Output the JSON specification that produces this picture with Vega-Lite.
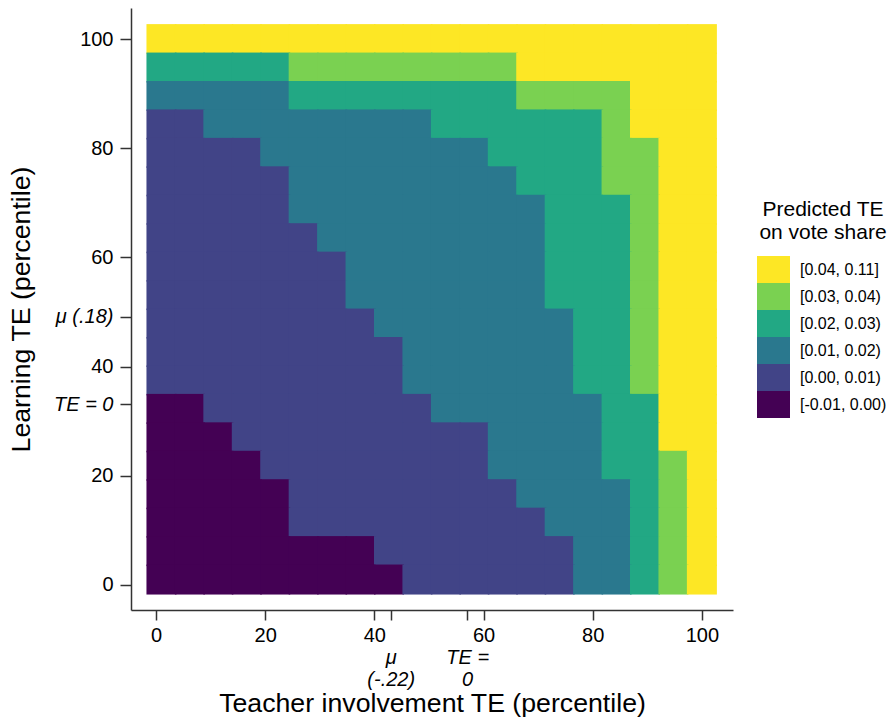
{
  "$schema": "https://vega.github.io/schema/vega-lite/v6.json",
  "width": 602,
  "height": 602,
  "autosize": "none",
  "padding": {"left": 131, "top": 8, "right": 158, "bottom": 109},
  "config": {
    "font": "Liberation Sans",
    "view": {"stroke": null},
    "axis": {
      "grid": false,
      "domainColor": "#333333",
      "domainWidth": 1.5,
      "tickColor": "#333333",
      "tickWidth": 1.5,
      "tickSize": 10,
      "labelFontSize": 20,
      "labelColor": "#000000",
      "labelPadding": 5,
      "labelOverlap": false,
      "labelFlush": false,
      "titleFontSize": 26.7,
      "titleFontWeight": "normal",
      "titleColor": "#000000"
    }
  },
  "datasets": {
    "bins": [
      {"k": 5, "te": "[0.04, 0.11]"},
      {"k": 4, "te": "[0.03, 0.04)"},
      {"k": 3, "te": "[0.02, 0.03)"},
      {"k": 2, "te": "[0.01, 0.02)"},
      {"k": 1, "te": "[0.00, 0.01)"},
      {"k": 0, "te": "[-0.01, 0.00)"}
    ],
    "cells": [
      {"x":1,"y":100,"k":5},{"x":6.21,"y":100,"k":5},{"x":11.42,"y":100,"k":5},{"x":16.63,"y":100,"k":5},{"x":21.84,"y":100,"k":5},{"x":27.05,"y":100,"k":5},{"x":32.26,"y":100,"k":5},{"x":37.47,"y":100,"k":5},{"x":42.68,"y":100,"k":5},{"x":47.89,"y":100,"k":5},{"x":53.11,"y":100,"k":5},{"x":58.32,"y":100,"k":5},{"x":63.53,"y":100,"k":5},{"x":68.74,"y":100,"k":5},{"x":73.95,"y":100,"k":5},{"x":79.16,"y":100,"k":5},{"x":84.37,"y":100,"k":5},{"x":89.58,"y":100,"k":5},{"x":94.79,"y":100,"k":5},{"x":100,"y":100,"k":5},

      {"x":1,"y":94.79,"k":3},{"x":6.21,"y":94.79,"k":3},{"x":11.42,"y":94.79,"k":3},{"x":16.63,"y":94.79,"k":3},{"x":21.84,"y":94.79,"k":3},{"x":27.05,"y":94.79,"k":4},{"x":32.26,"y":94.79,"k":4},{"x":37.47,"y":94.79,"k":4},{"x":42.68,"y":94.79,"k":4},{"x":47.89,"y":94.79,"k":4},{"x":53.11,"y":94.79,"k":4},{"x":58.32,"y":94.79,"k":4},{"x":63.53,"y":94.79,"k":4},{"x":68.74,"y":94.79,"k":5},{"x":73.95,"y":94.79,"k":5},{"x":79.16,"y":94.79,"k":5},{"x":84.37,"y":94.79,"k":5},{"x":89.58,"y":94.79,"k":5},{"x":94.79,"y":94.79,"k":5},{"x":100,"y":94.79,"k":5},

      {"x":1,"y":89.58,"k":2},{"x":6.21,"y":89.58,"k":2},{"x":11.42,"y":89.58,"k":2},{"x":16.63,"y":89.58,"k":2},{"x":21.84,"y":89.58,"k":2},{"x":27.05,"y":89.58,"k":3},{"x":32.26,"y":89.58,"k":3},{"x":37.47,"y":89.58,"k":3},{"x":42.68,"y":89.58,"k":3},{"x":47.89,"y":89.58,"k":3},{"x":53.11,"y":89.58,"k":3},{"x":58.32,"y":89.58,"k":3},{"x":63.53,"y":89.58,"k":3},{"x":68.74,"y":89.58,"k":4},{"x":73.95,"y":89.58,"k":4},{"x":79.16,"y":89.58,"k":4},{"x":84.37,"y":89.58,"k":4},{"x":89.58,"y":89.58,"k":5},{"x":94.79,"y":89.58,"k":5},{"x":100,"y":89.58,"k":5},

      {"x":1,"y":84.37,"k":1},{"x":6.21,"y":84.37,"k":1},{"x":11.42,"y":84.37,"k":2},{"x":16.63,"y":84.37,"k":2},{"x":21.84,"y":84.37,"k":2},{"x":27.05,"y":84.37,"k":2},{"x":32.26,"y":84.37,"k":2},{"x":37.47,"y":84.37,"k":2},{"x":42.68,"y":84.37,"k":2},{"x":47.89,"y":84.37,"k":2},{"x":53.11,"y":84.37,"k":3},{"x":58.32,"y":84.37,"k":3},{"x":63.53,"y":84.37,"k":3},{"x":68.74,"y":84.37,"k":3},{"x":73.95,"y":84.37,"k":3},{"x":79.16,"y":84.37,"k":3},{"x":84.37,"y":84.37,"k":4},{"x":89.58,"y":84.37,"k":5},{"x":94.79,"y":84.37,"k":5},{"x":100,"y":84.37,"k":5},

      {"x":1,"y":79.16,"k":1},{"x":6.21,"y":79.16,"k":1},{"x":11.42,"y":79.16,"k":1},{"x":16.63,"y":79.16,"k":1},{"x":21.84,"y":79.16,"k":2},{"x":27.05,"y":79.16,"k":2},{"x":32.26,"y":79.16,"k":2},{"x":37.47,"y":79.16,"k":2},{"x":42.68,"y":79.16,"k":2},{"x":47.89,"y":79.16,"k":2},{"x":53.11,"y":79.16,"k":2},{"x":58.32,"y":79.16,"k":2},{"x":63.53,"y":79.16,"k":3},{"x":68.74,"y":79.16,"k":3},{"x":73.95,"y":79.16,"k":3},{"x":79.16,"y":79.16,"k":3},{"x":84.37,"y":79.16,"k":4},{"x":89.58,"y":79.16,"k":4},{"x":94.79,"y":79.16,"k":5},{"x":100,"y":79.16,"k":5},

      {"x":1,"y":73.95,"k":1},{"x":6.21,"y":73.95,"k":1},{"x":11.42,"y":73.95,"k":1},{"x":16.63,"y":73.95,"k":1},{"x":21.84,"y":73.95,"k":1},{"x":27.05,"y":73.95,"k":2},{"x":32.26,"y":73.95,"k":2},{"x":37.47,"y":73.95,"k":2},{"x":42.68,"y":73.95,"k":2},{"x":47.89,"y":73.95,"k":2},{"x":53.11,"y":73.95,"k":2},{"x":58.32,"y":73.95,"k":2},{"x":63.53,"y":73.95,"k":2},{"x":68.74,"y":73.95,"k":3},{"x":73.95,"y":73.95,"k":3},{"x":79.16,"y":73.95,"k":3},{"x":84.37,"y":73.95,"k":4},{"x":89.58,"y":73.95,"k":4},{"x":94.79,"y":73.95,"k":5},{"x":100,"y":73.95,"k":5},

      {"x":1,"y":68.74,"k":1},{"x":6.21,"y":68.74,"k":1},{"x":11.42,"y":68.74,"k":1},{"x":16.63,"y":68.74,"k":1},{"x":21.84,"y":68.74,"k":1},{"x":27.05,"y":68.74,"k":2},{"x":32.26,"y":68.74,"k":2},{"x":37.47,"y":68.74,"k":2},{"x":42.68,"y":68.74,"k":2},{"x":47.89,"y":68.74,"k":2},{"x":53.11,"y":68.74,"k":2},{"x":58.32,"y":68.74,"k":2},{"x":63.53,"y":68.74,"k":2},{"x":68.74,"y":68.74,"k":2},{"x":73.95,"y":68.74,"k":3},{"x":79.16,"y":68.74,"k":3},{"x":84.37,"y":68.74,"k":3},{"x":89.58,"y":68.74,"k":4},{"x":94.79,"y":68.74,"k":5},{"x":100,"y":68.74,"k":5},

      {"x":1,"y":63.53,"k":1},{"x":6.21,"y":63.53,"k":1},{"x":11.42,"y":63.53,"k":1},{"x":16.63,"y":63.53,"k":1},{"x":21.84,"y":63.53,"k":1},{"x":27.05,"y":63.53,"k":1},{"x":32.26,"y":63.53,"k":2},{"x":37.47,"y":63.53,"k":2},{"x":42.68,"y":63.53,"k":2},{"x":47.89,"y":63.53,"k":2},{"x":53.11,"y":63.53,"k":2},{"x":58.32,"y":63.53,"k":2},{"x":63.53,"y":63.53,"k":2},{"x":68.74,"y":63.53,"k":2},{"x":73.95,"y":63.53,"k":3},{"x":79.16,"y":63.53,"k":3},{"x":84.37,"y":63.53,"k":3},{"x":89.58,"y":63.53,"k":4},{"x":94.79,"y":63.53,"k":5},{"x":100,"y":63.53,"k":5},

      {"x":1,"y":58.32,"k":1},{"x":6.21,"y":58.32,"k":1},{"x":11.42,"y":58.32,"k":1},{"x":16.63,"y":58.32,"k":1},{"x":21.84,"y":58.32,"k":1},{"x":27.05,"y":58.32,"k":1},{"x":32.26,"y":58.32,"k":1},{"x":37.47,"y":58.32,"k":2},{"x":42.68,"y":58.32,"k":2},{"x":47.89,"y":58.32,"k":2},{"x":53.11,"y":58.32,"k":2},{"x":58.32,"y":58.32,"k":2},{"x":63.53,"y":58.32,"k":2},{"x":68.74,"y":58.32,"k":2},{"x":73.95,"y":58.32,"k":3},{"x":79.16,"y":58.32,"k":3},{"x":84.37,"y":58.32,"k":3},{"x":89.58,"y":58.32,"k":4},{"x":94.79,"y":58.32,"k":5},{"x":100,"y":58.32,"k":5},

      {"x":1,"y":53.11,"k":1},{"x":6.21,"y":53.11,"k":1},{"x":11.42,"y":53.11,"k":1},{"x":16.63,"y":53.11,"k":1},{"x":21.84,"y":53.11,"k":1},{"x":27.05,"y":53.11,"k":1},{"x":32.26,"y":53.11,"k":1},{"x":37.47,"y":53.11,"k":2},{"x":42.68,"y":53.11,"k":2},{"x":47.89,"y":53.11,"k":2},{"x":53.11,"y":53.11,"k":2},{"x":58.32,"y":53.11,"k":2},{"x":63.53,"y":53.11,"k":2},{"x":68.74,"y":53.11,"k":2},{"x":73.95,"y":53.11,"k":3},{"x":79.16,"y":53.11,"k":3},{"x":84.37,"y":53.11,"k":3},{"x":89.58,"y":53.11,"k":4},{"x":94.79,"y":53.11,"k":5},{"x":100,"y":53.11,"k":5},

      {"x":1,"y":47.89,"k":1},{"x":6.21,"y":47.89,"k":1},{"x":11.42,"y":47.89,"k":1},{"x":16.63,"y":47.89,"k":1},{"x":21.84,"y":47.89,"k":1},{"x":27.05,"y":47.89,"k":1},{"x":32.26,"y":47.89,"k":1},{"x":37.47,"y":47.89,"k":1},{"x":42.68,"y":47.89,"k":2},{"x":47.89,"y":47.89,"k":2},{"x":53.11,"y":47.89,"k":2},{"x":58.32,"y":47.89,"k":2},{"x":63.53,"y":47.89,"k":2},{"x":68.74,"y":47.89,"k":2},{"x":73.95,"y":47.89,"k":2},{"x":79.16,"y":47.89,"k":3},{"x":84.37,"y":47.89,"k":3},{"x":89.58,"y":47.89,"k":4},{"x":94.79,"y":47.89,"k":5},{"x":100,"y":47.89,"k":5},

      {"x":1,"y":42.68,"k":1},{"x":6.21,"y":42.68,"k":1},{"x":11.42,"y":42.68,"k":1},{"x":16.63,"y":42.68,"k":1},{"x":21.84,"y":42.68,"k":1},{"x":27.05,"y":42.68,"k":1},{"x":32.26,"y":42.68,"k":1},{"x":37.47,"y":42.68,"k":1},{"x":42.68,"y":42.68,"k":1},{"x":47.89,"y":42.68,"k":2},{"x":53.11,"y":42.68,"k":2},{"x":58.32,"y":42.68,"k":2},{"x":63.53,"y":42.68,"k":2},{"x":68.74,"y":42.68,"k":2},{"x":73.95,"y":42.68,"k":2},{"x":79.16,"y":42.68,"k":3},{"x":84.37,"y":42.68,"k":3},{"x":89.58,"y":42.68,"k":4},{"x":94.79,"y":42.68,"k":5},{"x":100,"y":42.68,"k":5},

      {"x":1,"y":37.47,"k":1},{"x":6.21,"y":37.47,"k":1},{"x":11.42,"y":37.47,"k":1},{"x":16.63,"y":37.47,"k":1},{"x":21.84,"y":37.47,"k":1},{"x":27.05,"y":37.47,"k":1},{"x":32.26,"y":37.47,"k":1},{"x":37.47,"y":37.47,"k":1},{"x":42.68,"y":37.47,"k":1},{"x":47.89,"y":37.47,"k":2},{"x":53.11,"y":37.47,"k":2},{"x":58.32,"y":37.47,"k":2},{"x":63.53,"y":37.47,"k":2},{"x":68.74,"y":37.47,"k":2},{"x":73.95,"y":37.47,"k":2},{"x":79.16,"y":37.47,"k":3},{"x":84.37,"y":37.47,"k":3},{"x":89.58,"y":37.47,"k":4},{"x":94.79,"y":37.47,"k":5},{"x":100,"y":37.47,"k":5},

      {"x":1,"y":32.26,"k":0},{"x":6.21,"y":32.26,"k":0},{"x":11.42,"y":32.26,"k":1},{"x":16.63,"y":32.26,"k":1},{"x":21.84,"y":32.26,"k":1},{"x":27.05,"y":32.26,"k":1},{"x":32.26,"y":32.26,"k":1},{"x":37.47,"y":32.26,"k":1},{"x":42.68,"y":32.26,"k":1},{"x":47.89,"y":32.26,"k":1},{"x":53.11,"y":32.26,"k":2},{"x":58.32,"y":32.26,"k":2},{"x":63.53,"y":32.26,"k":2},{"x":68.74,"y":32.26,"k":2},{"x":73.95,"y":32.26,"k":2},{"x":79.16,"y":32.26,"k":2},{"x":84.37,"y":32.26,"k":3},{"x":89.58,"y":32.26,"k":3},{"x":94.79,"y":32.26,"k":5},{"x":100,"y":32.26,"k":5},

      {"x":1,"y":27.05,"k":0},{"x":6.21,"y":27.05,"k":0},{"x":11.42,"y":27.05,"k":0},{"x":16.63,"y":27.05,"k":1},{"x":21.84,"y":27.05,"k":1},{"x":27.05,"y":27.05,"k":1},{"x":32.26,"y":27.05,"k":1},{"x":37.47,"y":27.05,"k":1},{"x":42.68,"y":27.05,"k":1},{"x":47.89,"y":27.05,"k":1},{"x":53.11,"y":27.05,"k":1},{"x":58.32,"y":27.05,"k":1},{"x":63.53,"y":27.05,"k":2},{"x":68.74,"y":27.05,"k":2},{"x":73.95,"y":27.05,"k":2},{"x":79.16,"y":27.05,"k":2},{"x":84.37,"y":27.05,"k":3},{"x":89.58,"y":27.05,"k":3},{"x":94.79,"y":27.05,"k":5},{"x":100,"y":27.05,"k":5},

      {"x":1,"y":21.84,"k":0},{"x":6.21,"y":21.84,"k":0},{"x":11.42,"y":21.84,"k":0},{"x":16.63,"y":21.84,"k":0},{"x":21.84,"y":21.84,"k":1},{"x":27.05,"y":21.84,"k":1},{"x":32.26,"y":21.84,"k":1},{"x":37.47,"y":21.84,"k":1},{"x":42.68,"y":21.84,"k":1},{"x":47.89,"y":21.84,"k":1},{"x":53.11,"y":21.84,"k":1},{"x":58.32,"y":21.84,"k":1},{"x":63.53,"y":21.84,"k":2},{"x":68.74,"y":21.84,"k":2},{"x":73.95,"y":21.84,"k":2},{"x":79.16,"y":21.84,"k":2},{"x":84.37,"y":21.84,"k":3},{"x":89.58,"y":21.84,"k":3},{"x":94.79,"y":21.84,"k":4},{"x":100,"y":21.84,"k":5},

      {"x":1,"y":16.63,"k":0},{"x":6.21,"y":16.63,"k":0},{"x":11.42,"y":16.63,"k":0},{"x":16.63,"y":16.63,"k":0},{"x":21.84,"y":16.63,"k":0},{"x":27.05,"y":16.63,"k":1},{"x":32.26,"y":16.63,"k":1},{"x":37.47,"y":16.63,"k":1},{"x":42.68,"y":16.63,"k":1},{"x":47.89,"y":16.63,"k":1},{"x":53.11,"y":16.63,"k":1},{"x":58.32,"y":16.63,"k":1},{"x":63.53,"y":16.63,"k":1},{"x":68.74,"y":16.63,"k":2},{"x":73.95,"y":16.63,"k":2},{"x":79.16,"y":16.63,"k":2},{"x":84.37,"y":16.63,"k":2},{"x":89.58,"y":16.63,"k":3},{"x":94.79,"y":16.63,"k":4},{"x":100,"y":16.63,"k":5},

      {"x":1,"y":11.42,"k":0},{"x":6.21,"y":11.42,"k":0},{"x":11.42,"y":11.42,"k":0},{"x":16.63,"y":11.42,"k":0},{"x":21.84,"y":11.42,"k":0},{"x":27.05,"y":11.42,"k":1},{"x":32.26,"y":11.42,"k":1},{"x":37.47,"y":11.42,"k":1},{"x":42.68,"y":11.42,"k":1},{"x":47.89,"y":11.42,"k":1},{"x":53.11,"y":11.42,"k":1},{"x":58.32,"y":11.42,"k":1},{"x":63.53,"y":11.42,"k":1},{"x":68.74,"y":11.42,"k":1},{"x":73.95,"y":11.42,"k":2},{"x":79.16,"y":11.42,"k":2},{"x":84.37,"y":11.42,"k":2},{"x":89.58,"y":11.42,"k":3},{"x":94.79,"y":11.42,"k":4},{"x":100,"y":11.42,"k":5},

      {"x":1,"y":6.21,"k":0},{"x":6.21,"y":6.21,"k":0},{"x":11.42,"y":6.21,"k":0},{"x":16.63,"y":6.21,"k":0},{"x":21.84,"y":6.21,"k":0},{"x":27.05,"y":6.21,"k":0},{"x":32.26,"y":6.21,"k":0},{"x":37.47,"y":6.21,"k":0},{"x":42.68,"y":6.21,"k":1},{"x":47.89,"y":6.21,"k":1},{"x":53.11,"y":6.21,"k":1},{"x":58.32,"y":6.21,"k":1},{"x":63.53,"y":6.21,"k":1},{"x":68.74,"y":6.21,"k":1},{"x":73.95,"y":6.21,"k":1},{"x":79.16,"y":6.21,"k":2},{"x":84.37,"y":6.21,"k":2},{"x":89.58,"y":6.21,"k":3},{"x":94.79,"y":6.21,"k":4},{"x":100,"y":6.21,"k":5},

      {"x":1,"y":1,"k":0},{"x":6.21,"y":1,"k":0},{"x":11.42,"y":1,"k":0},{"x":16.63,"y":1,"k":0},{"x":21.84,"y":1,"k":0},{"x":27.05,"y":1,"k":0},{"x":32.26,"y":1,"k":0},{"x":37.47,"y":1,"k":0},{"x":42.68,"y":1,"k":0},{"x":47.89,"y":1,"k":1},{"x":53.11,"y":1,"k":1},{"x":58.32,"y":1,"k":1},{"x":63.53,"y":1,"k":1},{"x":68.74,"y":1,"k":1},{"x":73.95,"y":1,"k":1},{"x":79.16,"y":1,"k":2},{"x":84.37,"y":1,"k":2},{"x":89.58,"y":1,"k":3},{"x":94.79,"y":1,"k":4},{"x":100,"y":1,"k":5}
    ]
  },
  "data": {"name": "cells"},
  "transform": [
    {"lookup": "k", "from": {"data": {"name": "bins"}, "key": "k", "fields": ["te"]}}
  ],
  "mark": {"type": "point", "shape": "square", "filled": true, "size": 900, "opacity": 1, "strokeWidth": 0},
  "encoding": {
    "x": {
      "field": "x",
      "type": "quantitative",
      "scale": {"domain": [-4.58, 105.7], "nice": false, "zero": false},
      "axis": {
        "orient": "bottom",
        "title": "Teacher involvement TE (percentile)",
        "titlePadding": 1,
        "values": [0, 20, 40, 43, 57, 60, 80, 100],
        "labelLineHeight": 22,
        "labelExpr": "datum.value == 43 ? ['\u00a0', 'μ', '(-.22)'] : datum.value == 57 ? ['\u00a0', 'TE =', '0'] : datum.label",
        "labelFontStyle": {"condition": {"test": "datum.value == 43 || datum.value == 57", "value": "italic"}, "value": "normal"}
      }
    },
    "y": {
      "field": "y",
      "type": "quantitative",
      "scale": {"domain": [-4.58, 105.7], "nice": false, "zero": false},
      "axis": {
        "orient": "left",
        "title": "Learning TE (percentile)",
        "titlePadding": 18,
        "tickSize": 11,
        "labelPadding": 7,
        "values": [0, 20, 33.1, 40, 49.1, 60, 80, 100],
        "labelExpr": "datum.value == 49.1 ? 'μ (.18)' : datum.value == 33.1 ? 'TE = 0' : datum.label",
        "labelFontStyle": {"condition": {"test": "datum.value == 49.1 || datum.value == 33.1", "value": "italic"}, "value": "normal"}
      }
    },
    "color": {
      "field": "te",
      "type": "nominal",
      "scale": {
        "domain": ["[0.04, 0.11]", "[0.03, 0.04)", "[0.02, 0.03)", "[0.01, 0.02)", "[0.00, 0.01)", "[-0.01, 0.00)"],
        "range": ["#fde725", "#7ad151", "#22a884", "#2a788e", "#414487", "#440154"]
      },
      "legend": {
        "orient": "none",
        "legendX": 628,
        "legendY": 191,
        "title": ["Predicted TE", "on vote share"],
        "titleFontSize": 21,
        "titleFontWeight": "normal",
        "titleColor": "#000000",
        "titleAlign": "center",
        "titleAnchor": "middle",
        "titleLineHeight": 23,
        "titlePadding": 13,
        "labelFontSize": 16,
        "labelColor": "#000000",
        "labelOffset": 13,
        "symbolType": "M-1.2222,-1H1.2222V1H-1.2222Z",
        "symbolSize": 729,
        "symbolStrokeWidth": 0,
        "symbolOpacity": 1,
        "rowPadding": 0,
        "padding": 0
      }
    }
  }
}
